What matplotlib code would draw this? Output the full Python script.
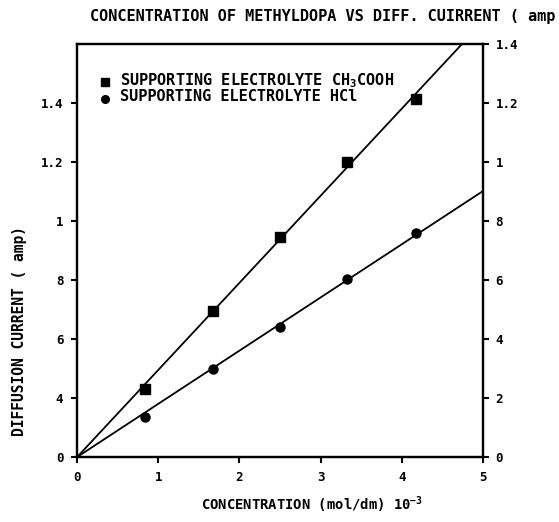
import numpy as np
import matplotlib
matplotlib.use("Agg")
import matplotlib.pyplot as plt

# concentration (mol/dm) x 10^-3
conc = [0.83, 1.67, 2.5, 3.33, 4.17]
# diffusion current
current_ch3cooh = [0.231, 0.495, 0.746, 1.0, 1.214]
current_hcl = [0.136, 0.298, 0.441, 0.603, 0.759]

left_ticks = [0, 0.2, 0.4, 0.6, 0.8, 1.0, 1.2]
left_labels = ["0", "4", "6", "8", "1", "1.2", "1.4"]
right_ticks = [0, 0.2, 0.4, 0.6, 0.8, 1.0, 1.2, 1.4]
right_labels = ["0", "2", "4", "6", "8", "1", "1.2", "1.4"]
x_ticks = [0, 1, 2, 3, 4, 5]

plt.rcParams['font.family'] = ['DejaVu Sans Mono']
plt.rcParams['font.weight'] = 'bold'
plt.rcParams['mathtext.default'] = 'regular'

fig = plt.figure(figsize=(5.59, 5.22), dpi=100)
ax = fig.add_axes([0.138, 0.1245, 0.726, 0.7915])

x = np.array(conc)
xx = np.linspace(0, 5, 50)
for y, mk in [(current_ch3cooh, 's'), (current_hcl, 'o')]:
    y = np.array(y)
    k = (x * y).sum() / (x * x).sum()   # least squares through origin
    ax.plot(xx, k * xx, color='black', lw=1.3)
    ax.plot(x, y, mk, color='black', ms=6.5)

ax.set_xlim(0, 5)
ax.set_ylim(0, 1.4)
ax.set_xticks(x_ticks)
ax.set_xticklabels([str(t) for t in x_ticks], fontsize=9, fontweight='bold')
ax.set_yticks(left_ticks)
ax.set_yticklabels(left_labels, fontsize=9, fontweight='bold')
ax.tick_params(direction='out', length=4, width=1.5, pad=6)

ax2 = ax.twinx()
ax2.set_ylim(0, 1.4)
ax2.set_yticks(right_ticks)
ax2.set_yticklabels(right_labels, fontsize=9, fontweight='bold')
ax2.tick_params(direction='out', length=4, width=1.5, pad=5)

for a in (ax, ax2):
    for s in a.spines.values():
        s.set_linewidth(1.6)

# legend drawn as in the original (markers + text inside the box)
ax.plot([0.345], [1.271], 's', color='black', ms=5.5)
ax.plot([0.345], [1.212], 'o', color='black', ms=5.5)
ax.text(0.53, 1.275, "SUPPORTING ELECTROLYTE CH$_3$COOH", fontsize=11,
        fontweight='bold', va='center')
ax.text(0.53, 1.222, "SUPPORTING ELECTROLYTE HCl", fontsize=11,
        fontweight='bold', va='center')

fig.text(90 / 559, 1 - 16 / 522, "CONCENTRATION OF METHYLDOPA VS DIFF. CUIRRENT ( amp",
         fontsize=11, fontweight='bold', ha='left', va='center')
fig.text(312 / 559, 1 - 505 / 522, "CONCENTRATION (mol/dm) 10$^{-3}$", fontsize=10,
         fontweight='bold', ha='center', va='center')
fig.text(20 / 559, 1 - 331 / 522, "DIFFUSION CURRENT ( amp)", fontsize=10.5,
         fontweight='bold', ha='center', va='center', rotation=90)

fig.savefig("out.png", dpi=100)
